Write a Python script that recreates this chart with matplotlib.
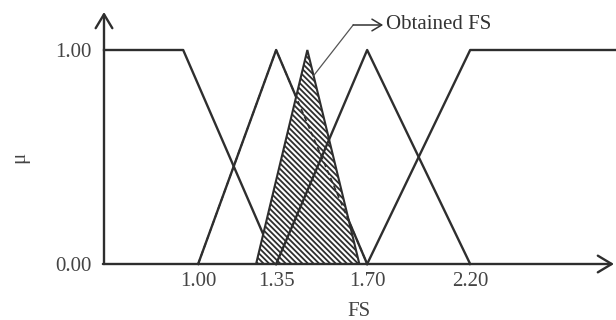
import numpy as np
import matplotlib
matplotlib.use("Agg")
import matplotlib.pyplot as plt

# ---- data ----
tick_values = [1.00, 1.35, 1.70, 2.20]
tick_labels = ["1.00", "1.35", "1.70", "2.20"]
y_ticks = [0.0, 1.0]
y_tick_labels = ["0.00", "1.00"]

left_trap_x = [0.578, 0.933, 1.35]
left_trap_y = [1.0, 1.0, 0.0]
tri1_x = [1.00, 1.35, 1.70]
tri1_y = [0.0, 1.0, 0.0]
tri2_x = [1.35, 1.70, 2.20]
tri2_y = [0.0, 1.0, 0.0]
right_trap_x = [1.70, 2.20, 2.554]
right_trap_y = [0.0, 1.0, 1.0]
obtained_x = [1.26, 1.47, 1.67]
obtained_y = [0.0, 1.0, 0.0]
annotation_text = "Obtained FS"

# ---- non-uniform (schematic) x scale: piecewise linear ----
knot_data = np.array([-10.0, 1.00, 1.35, 1.70, 2.20, 10.0])
knot_pos = np.array([198 - 11 * 223.0, 198.0, 276.0, 367.0, 470.0, 470 + 7.8 * 412.0])

def fwd(x):
    return np.interp(np.asarray(x, dtype=float), knot_data, knot_pos)

def inv(p):
    return np.interp(np.asarray(p, dtype=float), knot_pos, knot_data)

plt.rcParams["font.family"] = ["Liberation Serif", "DejaVu Serif"]
plt.rcParams["hatch.linewidth"] = 1.3
plt.rcParams["hatch.color"] = "#333333"

W, H = 616, 320
fig = plt.figure(figsize=(W / 100, H / 100), dpi=100)
ax = fig.add_axes([104 / W, (H - 264) / H, (614 - 104) / W, (264 - 12) / H])
ax.set_xscale("function", functions=(fwd, inv))
ax.set_xlim(0.578, 2.549)
ax.set_ylim(0, (264 - 12) / 214)

lc = "#2e2e2e"
lw = 1.7
tc = "#444444"
fs = 15

for s in ax.spines.values():
    s.set_visible(False)

# lines under the hatch
ax.plot(left_trap_x, left_trap_y, color=lc, lw=lw, zorder=1, clip_on=False)
ax.plot(tri1_x, tri1_y, color=lc, lw=lw, zorder=1, clip_on=False)

# hatched obtained fuzzy set
ax.fill(obtained_x, obtained_y, facecolor="white", edgecolor=lc, lw=1.5,
        hatch="\\" * 6, zorder=2)
# triangle 1 shows dashed through the hatch
ax.plot(tri1_x, tri1_y, color=lc, lw=1.2, ls=(0, (3, 2)), zorder=2.5, clip_on=False)

ax.plot(tri2_x, tri2_y, color=lc, lw=lw, zorder=3, clip_on=False)
ax.plot(right_trap_x, right_trap_y, color=lc, lw=lw, zorder=3, clip_on=False)

# axis arrows
ymax = ax.get_ylim()[1]
xmin, xmax = ax.get_xlim()
ax.annotate("", xy=(xmin, ymax), xytext=(xmin, 0),
            arrowprops=dict(arrowstyle="->,head_length=0.5,head_width=0.3",
                            color=lc, lw=lw, mutation_scale=20,
                            shrinkA=0, shrinkB=0), annotation_clip=False, zorder=4)
ax.annotate("", xy=(xmax, 0), xytext=(xmin - 0.005, 0),
            arrowprops=dict(arrowstyle="->,head_length=0.5,head_width=0.3",
                            color=lc, lw=lw, mutation_scale=20,
                            shrinkA=0, shrinkB=0), annotation_clip=False, zorder=4)

# annotation pointer
mu0 = 0.88
sx = obtained_x[1] + (1 - mu0) * (obtained_x[2] - obtained_x[1])
cy = (264 - 25) / 214
cx = inv(353.0)
tx = inv(383.0)
ax.plot([sx, cx], [mu0, cy], color="#555555", lw=0.9, zorder=4, clip_on=False)
ax.annotate("", xy=(tx, cy), xytext=(cx, cy),
            arrowprops=dict(arrowstyle="->,head_length=0.5,head_width=0.3",
                            color="#333333", lw=1.1, mutation_scale=14,
                            shrinkA=0, shrinkB=0), annotation_clip=False, zorder=4)
ax.text(inv(386.0), cy, annotation_text, fontsize=fs, color="#333333",
        va="center", ha="left")

# ticks
ax.set_xticks(tick_values)
ax.set_xticklabels(tick_labels)
ax.set_yticks(y_ticks)
ax.set_yticklabels(y_tick_labels)
ax.xaxis.set_minor_locator(matplotlib.ticker.NullLocator())
ax.tick_params(axis="both", length=0, labelsize=fs, labelcolor=tc)
ax.tick_params(axis="x", pad=6)
ax.tick_params(axis="y", pad=9)

ax.set_xlabel("FS", fontsize=fs, color=tc, labelpad=8)
fig.text(20 / W, 1 - 157 / H, "μ", fontsize=fs, color=tc, rotation=90,
         ha="center", va="center")

fig.savefig("out.png", dpi=100)
